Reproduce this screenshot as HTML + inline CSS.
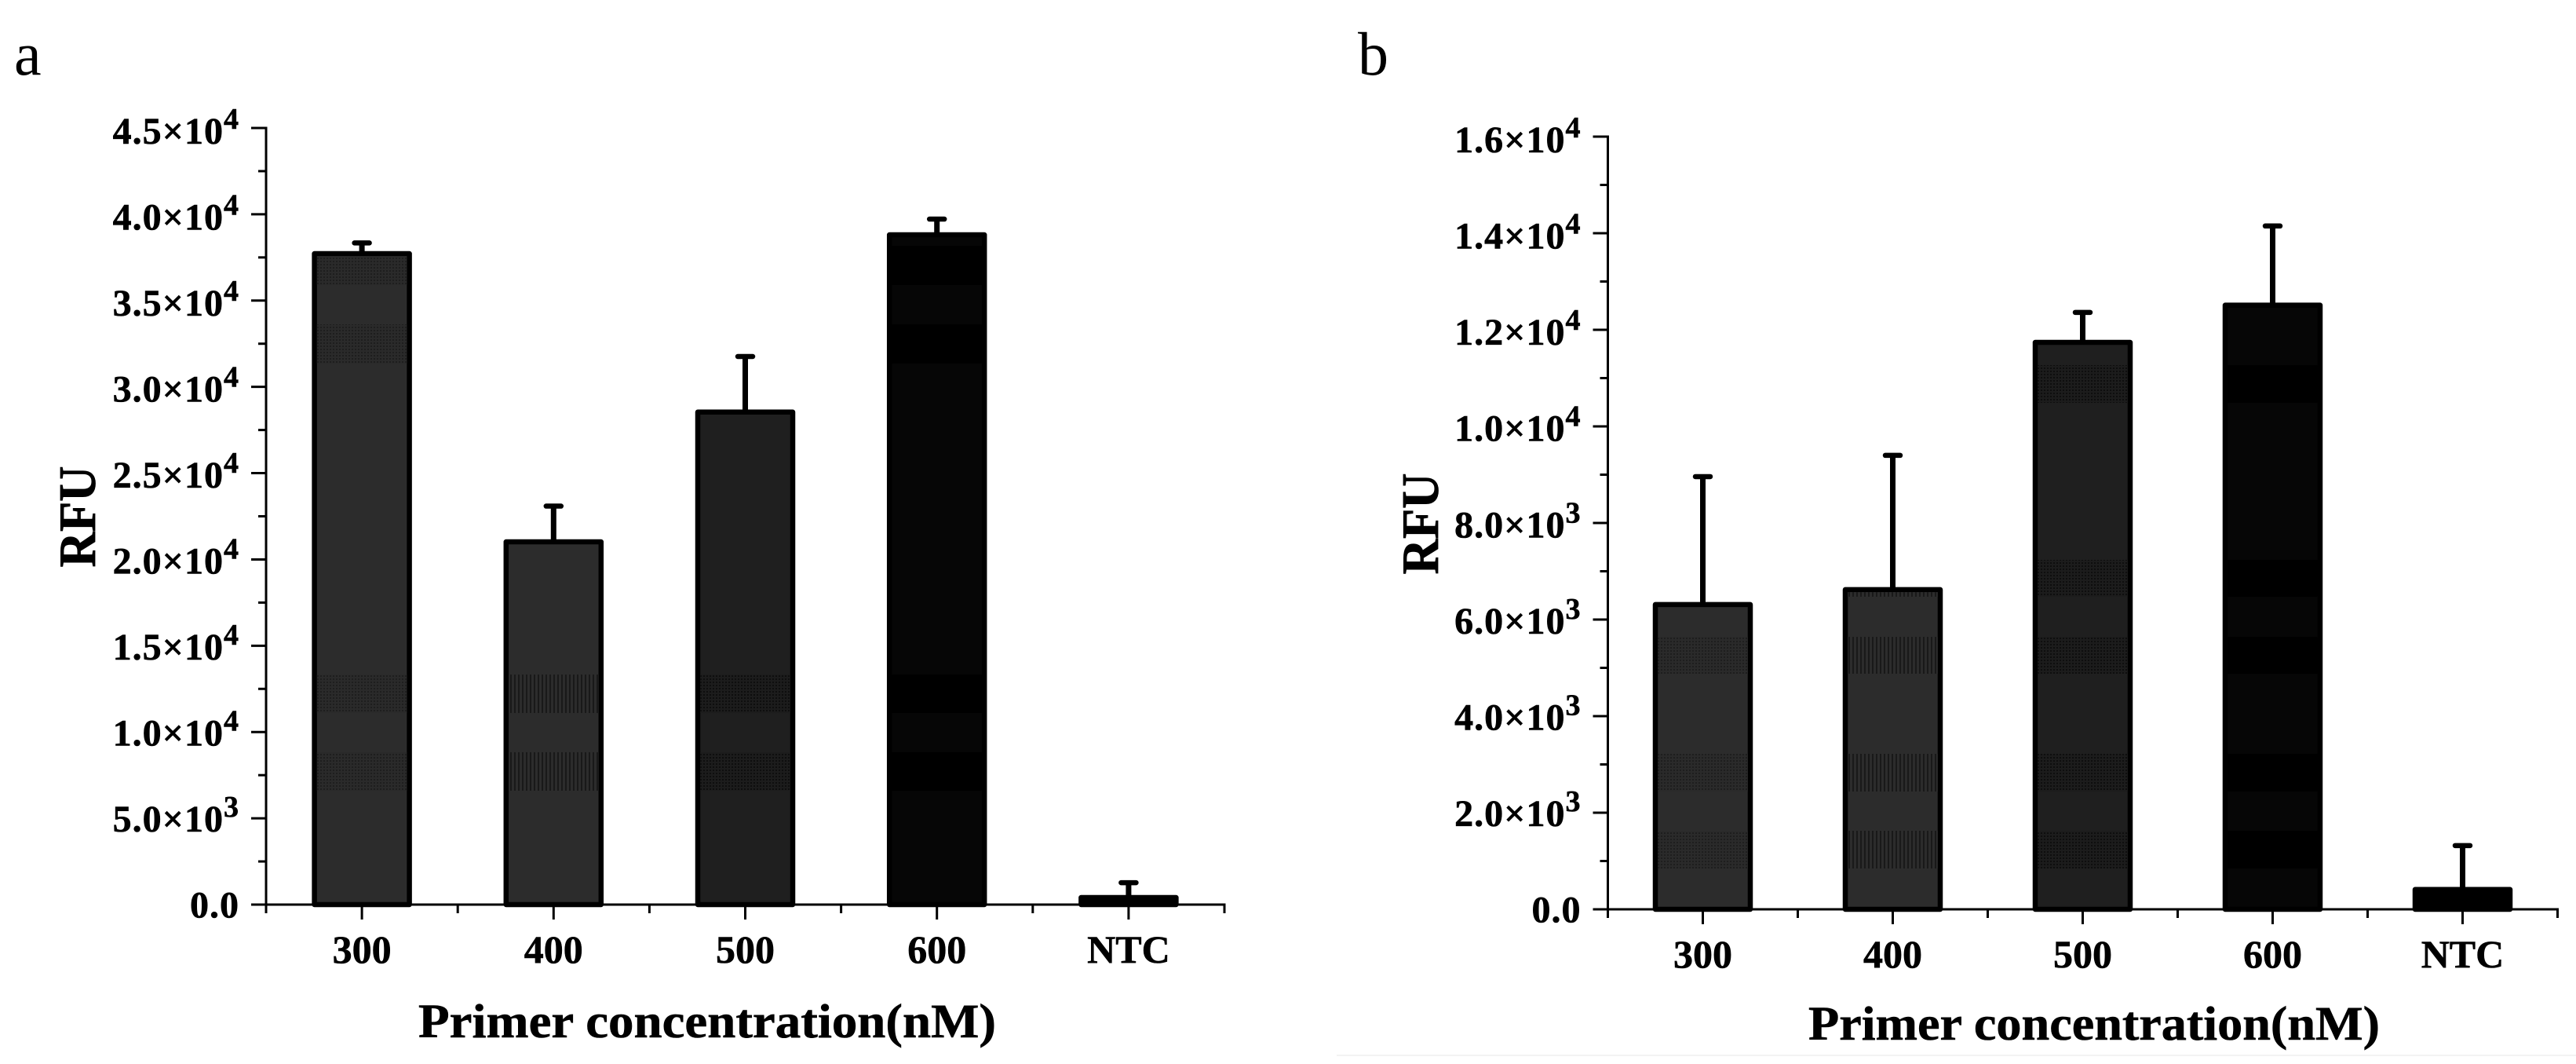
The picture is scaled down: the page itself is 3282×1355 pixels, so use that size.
<!DOCTYPE html>
<html lang="en">
<head>
<meta charset="utf-8">
<title>RFU vs primer concentration</title>
<style>
html,body{margin:0;padding:0;background:#fff;width:3282px;height:1355px;overflow:hidden}
svg{display:block}
text{font-family:"Liberation Serif",serif;fill:#000}
</style>
</head>
<body>
<svg id="figure" xmlns="http://www.w3.org/2000/svg" width="3282" height="1355" viewBox="0 0 3282 1355">
<defs>
<pattern id="dots-a" width="4" height="4" patternUnits="userSpaceOnUse"><rect width="4" height="4" fill="#2a2a2a"/><rect width="2" height="2" fill="#1e1e1e"/></pattern>
<pattern id="stripes" width="5" height="5" patternUnits="userSpaceOnUse"><rect width="5" height="5" fill="#2c2c2c"/><rect width="2" height="5" fill="#191919"/></pattern>
<pattern id="dots-c" width="4" height="4" patternUnits="userSpaceOnUse"><rect width="4" height="4" fill="#1c1c1c"/><rect width="2" height="2" fill="#0e0e0e"/></pattern>
<pattern id="solid-d" width="4" height="4" patternUnits="userSpaceOnUse"><rect width="4" height="4" fill="#000"/></pattern>
</defs>
<text x="18" y="95" font-size="78">a</text>
<text x="1730" y="95" font-size="78">b</text>
<rect x="1703" y="1343" width="1579" height="2" fill="#f3f3f3"/>
<g id="chart-a"></g>
<g id="chart-b"></g>
</svg>
<script>
const categories = ['300', '400', '500', '600', 'NTC'];

const valuesA = [37720, 21020, 28540, 38810, 410];
const errorsA = [620, 2070, 3220, 910, 860];
const yTickValuesA = [0, 5000, 10000, 15000, 20000, 25000, 30000, 35000, 40000, 45000];
const yTickMantissaA = ['0.0', '5.0', '1.0', '1.5', '2.0', '2.5', '3.0', '3.5', '4.0', '4.5'];
const yTickExponentA = ['', '3', '4', '4', '4', '4', '4', '4', '4', '4'];
const shadeBandsA = [[38175, 35900], [33625, 31350], [13330, 11100], [8830, 6600]];

const valuesB = [6310, 6620, 11740, 12510, 410];
const errorsB = [2650, 2780, 620, 1640, 910];
const yTickValuesB = [0, 2000, 4000, 6000, 8000, 10000, 12000, 14000, 16000];
const yTickMantissaB = ['0.0', '2.0', '4.0', '6.0', '8.0', '1.0', '1.2', '1.4', '1.6'];
const yTickExponentB = ['', '3', '3', '3', '3', '4', '4', '4', '4'];
const shadeBandsB = [[11268, 10488], [7236, 6472], [5642, 4878], [3220, 2439], [1626, 845]];

const barFills = ['#2c2c2c', '#2c2c2c', '#1f1f1f', '#060606', '#000000'];
const bandFills = ['url(#dots-a)', 'url(#stripes)', 'url(#dots-c)', 'url(#solid-d)', 'url(#solid-d)'];

const SVGNS = 'http://www.w3.org/2000/svg';
function make(parent, tag, attrs, content) {
  const node = document.createElementNS(SVGNS, tag);
  for (const key in attrs) node.setAttribute(key, attrs[key]);
  if (content !== undefined) node.textContent = content;
  parent.appendChild(node);
  return node;
}

function drawChart(root, prefix, cfg, values, errors, tickValues, mantissas, exponents, bands) {
  const y = v => cfg.y0 - v / cfg.yMax * (cfg.y0 - cfg.yTop);
  const step = (cfg.xEnd - cfg.x0) / categories.length;
  const x = i => cfg.x0 + step * (i + 0.5);
  const barW = 121;

  categories.forEach((cat, i) => {
    const g = make(root, 'g', {});
    
    

    const top = y(values[i]);
    const capY = y(values[i] + errors[i]);
    const stem = make(g, 'line', {x1: x(i), x2: x(i), y1: top, y2: capY, stroke: '#000', 'stroke-width': 7});
    
    
    const cap = make(g, 'line', {x1: x(i) - 9.5, x2: x(i) + 9.5, y1: capY, y2: capY, stroke: '#000', 'stroke-width': 6.5, 'stroke-linecap': 'round'});
    
    

    const bar = make(g, 'rect', {x: x(i) - barW / 2, y: top, width: barW, height: cfg.y0 - top, fill: barFills[i], stroke: '#000', 'stroke-width': 6.5, 'stroke-linejoin': 'round'});
    
    

    const clipId = prefix + '-clip-' + i;
    const clip = make(g, 'clipPath', {id: clipId});
    make(clip, 'rect', {x: x(i) - barW / 2 + 3.25, y: top + 3.25, width: barW - 6.5, height: Math.max(0, cfg.y0 - top - 6.5)});
    const bandGroup = make(g, 'g', {'clip-path': 'url(#' + clipId + ')'});
    
    
    bands.forEach(b => {
      make(bandGroup, 'rect', {x: x(i) - barW / 2, y: y(b[0]), width: barW, height: y(b[1]) - y(b[0]), fill: bandFills[i]});
    });
  });

  const axes = make(root, 'g', {stroke: '#000', 'stroke-width': 3, fill: 'none'});
  
  
  const yAxis = make(axes, 'line', {x1: cfg.x0, x2: cfg.x0, y1: cfg.yTop - 1.5, y2: cfg.y0 + 1.5});
  
  
  const xAxis = make(axes, 'line', {x1: cfg.x0 - 19, x2: cfg.xEnd + 1.5, y1: cfg.y0, y2: cfg.y0});
  
  

  tickValues.forEach((v, i) => {
    const t = make(axes, 'line', {x1: cfg.x0 - 19, x2: cfg.x0, y1: y(v), y2: y(v)});
    
    
    if (i < tickValues.length - 1) {
      const mv = y((v + tickValues[i + 1]) / 2);
      const m = make(axes, 'line', {x1: cfg.x0 - 10, x2: cfg.x0, y1: mv, y2: mv});
      
      
    }
    const labelOffset = 16.5 + 3.5 * i / (tickValues.length - 1);
    const label = make(root, 'text', {x: cfg.x0 - 34, y: y(v) + labelOffset, 'text-anchor': 'end', 'font-size': 48, 'font-weight': 'bold', 'letter-spacing': 1, stroke: '#000', 'stroke-width': 0.6});
    
    
    if (exponents[i]) {
      make(label, 'tspan', {}, mantissas[i] + '×10');
      make(label, 'tspan', {dy: -19, 'font-size': 38}, exponents[i]);
    } else {
      label.textContent = mantissas[i];
    }
  });

  for (let i = 0; i <= categories.length; i++) {
    const mx = cfg.x0 + step * i;
    const m = make(axes, 'line', {x1: mx, x2: mx, y1: cfg.y0, y2: cfg.y0 + 11});
    
    
  }
  categories.forEach((cat, i) => {
    const t = make(axes, 'line', {x1: x(i), x2: x(i), y1: cfg.y0, y2: cfg.y0 + 19});
    
    
    const label = make(root, 'text', {x: x(i), y: cfg.y0 + 74, 'text-anchor': 'middle', 'font-size': 50, 'font-weight': 'bold', stroke: '#000', 'stroke-width': 0.6});
    label.textContent = cat;
    
    
  });

  const xTitle = make(root, 'text', {x: cfg.xTitleX, y: cfg.xTitleY, 'text-anchor': 'middle', 'font-size': 61, 'font-weight': 'bold', textLength: cfg.xTitleLen, lengthAdjust: 'spacingAndGlyphs', stroke: '#000', 'stroke-width': 0.6}, 'Primer concentration(nM)');
  
  

  const yTitle = make(root, 'text', {transform: 'translate(' + cfg.yTitleX + ' ' + cfg.yTitleY + ') rotate(-90)', 'text-anchor': 'middle', 'font-size': 67, 'font-weight': 'bold', textLength: 129, lengthAdjust: 'spacingAndGlyphs', stroke: '#000', 'stroke-width': 0.8}, 'RFU');
  
  
}

drawChart(document.getElementById('chart-a'), 'a',
  {x0: 339, xEnd: 1560, y0: 1152, yTop: 163, yMax: 45000, xTitleX: 901, xTitleY: 1321, xTitleLen: 736, yTitleX: 121, yTitleY: 658},
  valuesA, errorsA, yTickValuesA, yTickMantissaA, yTickExponentA, shadeBandsA);
drawChart(document.getElementById('chart-b'), 'b',
  {x0: 2048.5, xEnd: 3258.5, y0: 1158, yTop: 174, yMax: 16000, xTitleX: 2668, xTitleY: 1324, xTitleLen: 728, yTitleX: 1832, yTitleY: 667},
  valuesB, errorsB, yTickValuesB, yTickMantissaB, yTickExponentB, shadeBandsB);
</script>
</body>
</html>
